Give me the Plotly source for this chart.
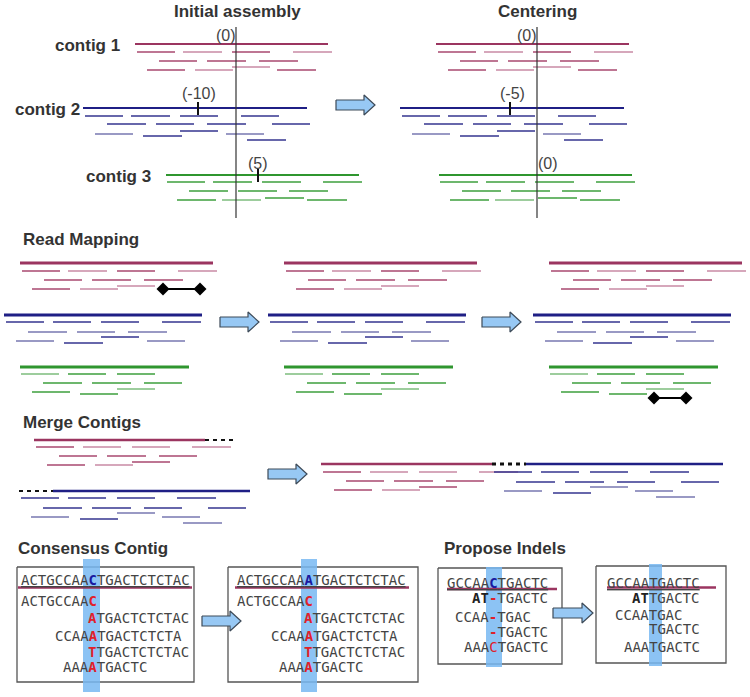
import plotly.graph_objects as go
from collections import OrderedDict

# ======================= DATA =======================
# --- top section: Initial assembly / Centering ---
TOP_TITLES = ["Initial assembly", "Centering"]
TOP_TITLE_X = [237, 537]
TOP_TITLE_Y = 11
CONTIG_NAMES = ["contig 1", "contig 2", "contig 3"]
CONTIG_NAME_X = [87, 47, 118]
TOP_MAIN_Y = [44, 108, 175]
TOP_MAIN_LEN = [193, 224, 193]
TOP_START_INITIAL = [135, 83, 166]
TOP_START_CENTER = [436, 400, 439]
CENTER_LINE_X = [236, 537]
CENTER_LINE_Y = [27, 218]
OFFSET_LABELS_INITIAL = ["(0)", "(-10)", "(5)"]
OFFSET_LABELS_CENTER = ["(0)", "(-5)", "(0)"]
OFFSET_LABEL_X_INITIAL = [226, 199, 258]
OFFSET_LABEL_X_CENTER = [527, 512, 548]
OFFSET_LABEL_Y = [35, 93, 163]
OFFSET_TICK_INITIAL = [None, 198, 258]
OFFSET_TICK_CENTER = [None, 510, None]

# reads: (start, end, dy, shade) relative to contig start / main line
READS_C1 = [(2, 40, 8, 0), (48, 87, 8, 1), (97, 135, 8, 0), (158, 197, 8, 1),
            (24, 62, 17, 0), (72, 111, 17, 0), (124, 163, 17, 0),
            (97, 135, 23, 1),
            (12, 50, 26, 0), (60, 98, 26, 1), (142, 181, 26, 0)]
READS_C2 = [(2, 40, 8, 0), (48, 87, 8, 0), (97, 135, 8, 0), (158, 196, 8, 0),
            (24, 63, 16, 0), (73, 111, 16, 0), (124, 163, 16, 0), (189, 227, 16, 0),
            (97, 135, 23, 0),
            (12, 50, 26, 1), (143, 181, 26, 1),
            (60, 99, 28, 0),
            (164, 203, 32, 0)]
READS_C3 = [(1, 39, 7, 0), (47, 86, 7, 0), (96, 135, 7, 0), (157, 196, 7, 0),
            (23, 62, 16, 0), (72, 111, 16, 0), (123, 162, 16, 0),
            (99, 138, 23, 0),
            (11, 50, 25, 0), (56, 95, 25, 1), (141, 181, 25, 0)]

# --- read mapping ---
RM_TITLE = "Read Mapping"
RM_TITLE_POS = (22, 239)
RM_MAIN_LEN = [193, 198, 169]
RM_START = [20, 4, 20]
RM_MAIN_Y = [263, 315, 367]
RM_PANEL_DX = [0, 264, 529]
RM_READS_C1 = READS_C1[:-1]
RM_READS_C2 = [(2, 40, 7, 0), (49, 87, 7, 0), (97, 135, 7, 0), (158, 197, 7, 0),
               (24, 63, 17, 1), (73, 111, 17, 1), (124, 163, 17, 1),
               (97, 135, 22, 0),
               (12, 50, 26, 1), (143, 181, 26, 1),
               (60, 99, 28, 0)]
RM_READS_C3 = [(1, 39, 7, 1), (48, 86, 7, 0), (97, 135, 7, 0),
               (23, 62, 16, 0), (72, 111, 16, 0), (124, 162, 16, 0),
               (97, 135, 22, 1),
               (12, 50, 25, 0), (60, 98, 27, 0)]
RM_PAIR_PANEL = [0, 2]
RM_PAIR_CONTIG = [0, 2]
RM_PAIR_REL = [(143, 180, 26), (105, 137, 31)]

# --- merge contigs ---
MG_TITLE = "Merge Contigs"
MG_TITLE_POS = (22, 422)
MG_C1_START, MG_C1_Y, MG_C1_SOLID, MG_C1_TOTAL = 34, 440, 171, 203
MG_C2_START, MG_C2_Y, MG_C2_GAP, MG_C2_TOTAL = 19, 491, 34, 231
MG_C1_READS = [(2, 40, 7, 0), (49, 87, 7, 1), (98, 136, 7, 1), (158, 197, 7, 1),
               (25, 63, 16, 0), (73, 112, 16, 0), (125, 163, 16, 0),
               (98, 136, 22, 0),
               (13, 51, 25, 0), (61, 99, 25, 1)]
MG_C2_READS = [(2, 40, 7, 0), (49, 87, 7, 0), (98, 136, 7, 0), (158, 197, 7, 0),
               (24, 63, 17, 0), (73, 112, 17, 0), (125, 163, 17, 0), (189, 227, 17, 0),
               (98, 136, 22, 1),
               (12, 50, 26, 1), (143, 181, 26, 1),
               (61, 99, 28, 0),
               (164, 203, 32, 1)]
MERGED_C1_START, MERGED_C2_START, MERGED_Y = 321, 492, 464

# --- arrows: (x_start, x_tip, y_center) ---
ARROWS = [(336, 375, 105), (220, 259, 322), (482, 521, 322),
          (268, 307, 474), (202, 241, 621), (553, 593, 613)]

# --- sequences ---
SEQ_PITCH = 8.43
CONS_TITLE = "Consensus Contig"
CONS_TITLE_POS = (17, 548)
INDEL_TITLE = "Propose Indels"
INDEL_TITLE_POS = (443, 548)

CONS_SEQ_A = ["ACTGCCAACTGACTCTCTAC", "ACTGCCAAC", "ATGACTCTCTAC",
              "CCAAATGACTCTCTA", "TTGACTCTCTAC", "AAAATGACTC"]
CONS_SEQ_B = ["ACTGCCAAATGACTCTCTAC", "ACTGCCAAC", "ATGACTCTCTAC",
              "CCAAATGACTCTCTA", "TTGACTCTCTAC", "AAAATGACTC"]
CONS_COLS = [0, 0, 8, 4, 8, 5]
CONS_ROW_Y = [580, 601, 618, 636, 652, 667]
INDEL_SEQ_A = ["GCCAACTGACTC", "AT-TGACTC", "CCAA-TGAC", "-TGACTC", "AAACTGACTC"]
INDEL_SEQ_B = ["GCCAATGACTC", "ATTGACTC", "CCAATGAC", "TGACTC", "AAATGACTC"]
INDEL_COLS = [0, 3, 1, 5, 2]
INDEL_ROW_Y_A = [583, 598, 617, 632, 647]
INDEL_ROW_Y_B = [583, 598, 615, 629, 647]

# boxes: (x0, x1, y0, y1), bands, text origin, underline extent
BOX_RECTS = [(17, 194, 567, 682), (228, 418, 567, 682), (438, 562, 568, 664), (596, 726, 566, 663)]
BAND_RECTS = [(83, 100, 559, 692), (301, 317, 559, 692), (486, 502, 567, 667), (649, 662, 564, 666)]
TEXT_X0 = [21, 237, 447, 607]
REF_LINE = [(18, 192, 587.5), (235, 409, 587.5), (447, 557, 589), (607, 716, 587.5)]
# special character styles: (line, col) -> style
SPECIAL = [
    {(0, 8): "blue", (1, 8): "red", (2, 8): "red", (3, 8): "red", (4, 8): "red", (5, 8): "red"},
    {(0, 8): "blue", (1, 8): "red", (2, 8): "red", (3, 8): "red", (4, 8): "red", (5, 8): "red"},
    {(0, 5): "blue", (1, 5): "red", (2, 5): "red", (3, 5): "red", (4, 5): "redn",
     (1, 3): "bold", (1, 4): "bold"},
    {(1, 3): "bold", (1, 4): "bold"},
]

# ======================= STYLE =======================
MAIN_COL = ["#9b3560", "#1f1f85", "#2f962f"]
READ_COL = [["#a8486f", "#c98aa5"], ["#34348f", "#7777b0"], ["#3d9f3d", "#7cbc7c"]]
TITLE_FONT = "Liberation Sans, Arial, sans-serif"
SEQ_FONT = "DejaVu Sans Mono, monospace"
TEXT_COL = "#333333"

# ======================= BUILD =======================
groups = OrderedDict()


def seg(x0, y0, x1, y1, color, width, dash="solid"):
    key = (color, width, dash)
    if key not in groups:
        groups[key] = ([], [])
    xs, ys = groups[key]
    xs += [x0, x1, None]
    ys += [y0, y1, None]


def contig(start, y, length, reads, ci, main_w=2.5, read_w=1.5):
    seg(start, y, start + length, y, MAIN_COL[ci], main_w)
    for (a, b, dy, sh) in reads:
        seg(start + a, y + dy, start + b, y + dy, READ_COL[ci][sh], read_w)


fig = go.Figure()
annotations = []


def label(text, x, y, size=17, bold=True, anchor="center", color=TEXT_COL, family=TITLE_FONT):
    annotations.append(dict(
        x=x, y=y, xref="x", yref="y", showarrow=False,
        text=("<b>%s</b>" % text) if bold else text,
        xanchor=anchor, yanchor="middle", borderpad=0,
        font=dict(family=family, size=size, color=color)))


# ---- boxes & bands (underneath) ----
for (x0, x1, y0, y1) in BOX_RECTS:
    fig.add_trace(go.Scatter(x=[x0, x1, x1, x0, x0], y=[y0, y0, y1, y1, y0], mode="lines",
                             line=dict(color="#555555", width=1.3), hoverinfo="skip"))
for (x0, x1, y0, y1) in BAND_RECTS:
    fig.add_trace(go.Scatter(x=[x0, x1, x1, x0, x0], y=[y0, y0, y1, y1, y0], mode="lines",
                             fill="toself", fillcolor="rgba(120,185,242,0.85)",
                             line=dict(width=0), hoverinfo="skip"))

# ---- top section ----
top_reads = [READS_C1, READS_C2, READS_C3]
for ci in range(3):
    contig(TOP_START_INITIAL[ci], TOP_MAIN_Y[ci], TOP_MAIN_LEN[ci], top_reads[ci], ci, 2.2)
    contig(TOP_START_CENTER[ci], TOP_MAIN_Y[ci], TOP_MAIN_LEN[ci], top_reads[ci], ci, 2.2)
for t, x in zip(TOP_TITLES, TOP_TITLE_X):
    label(t, x, TOP_TITLE_Y)
for n, x, y in zip(CONTIG_NAMES, CONTIG_NAME_X, TOP_MAIN_Y):
    label(n, x, y + 1)

# ---- read mapping ----
rm_reads = [RM_READS_C1, RM_READS_C2, RM_READS_C3]
for p, dx in enumerate(RM_PANEL_DX):
    for ci in range(3):
        contig(RM_START[ci] + dx, RM_MAIN_Y[ci], RM_MAIN_LEN[ci], rm_reads[ci], ci, 2.8)
label(RM_TITLE, RM_TITLE_POS[0], RM_TITLE_POS[1], anchor="left")

# ---- merge contigs ----
seg(MG_C1_START, MG_C1_Y, MG_C1_START + MG_C1_SOLID, MG_C1_Y, MAIN_COL[0], 2.5)
for (a, b, dy, sh) in MG_C1_READS:
    seg(MG_C1_START + a, MG_C1_Y + dy, MG_C1_START + b, MG_C1_Y + dy, READ_COL[0][sh], 1.5)
seg(MG_C2_START + MG_C2_GAP, MG_C2_Y, MG_C2_START + MG_C2_TOTAL, MG_C2_Y, MAIN_COL[1], 2.5)
for (a, b, dy, sh) in MG_C2_READS:
    seg(MG_C2_START + a, MG_C2_Y + dy, MG_C2_START + b, MG_C2_Y + dy, READ_COL[1][sh], 1.5)
# merged
seg(MERGED_C1_START, MERGED_Y, MERGED_C1_START + MG_C1_SOLID, MERGED_Y, MAIN_COL[0], 2.5)
for (a, b, dy, sh) in MG_C1_READS:
    seg(MERGED_C1_START + a, MERGED_Y + dy + 1, MERGED_C1_START + b, MERGED_Y + dy + 1, READ_COL[0][sh], 1.5)
seg(MERGED_C2_START + MG_C2_GAP, MERGED_Y, MERGED_C2_START + MG_C2_TOTAL, MERGED_Y, MAIN_COL[1], 2.5)
for (a, b, dy, sh) in MG_C2_READS:
    seg(MERGED_C2_START + a, MERGED_Y + dy + 1, MERGED_C2_START + b, MERGED_Y + dy + 1, READ_COL[1][sh], 1.5)
label(MG_TITLE, MG_TITLE_POS[0], MG_TITLE_POS[1], anchor="left")

# ---- reference underline in sequence boxes ----
for (x0, x1, y) in REF_LINE:
    seg(x0, y, x1, y, MAIN_COL[0], 2.5)

for key, (xs, ys) in groups.items():
    color, width, dash = key
    fig.add_trace(go.Scatter(x=xs, y=ys, mode="lines",
                             line=dict(color=color, width=width, dash=dash),
                             hoverinfo="skip"))

# dashed black continuations
fig.add_trace(go.Scatter(x=[MG_C1_START + MG_C1_SOLID, MG_C1_START + MG_C1_TOTAL], y=[MG_C1_Y, MG_C1_Y],
                         mode="lines", line=dict(color="#111111", width=2.2, dash="4px,4px"), hoverinfo="skip"))
fig.add_trace(go.Scatter(x=[MG_C2_START, MG_C2_START + MG_C2_GAP], y=[MG_C2_Y, MG_C2_Y],
                         mode="lines", line=dict(color="#111111", width=2.2, dash="4px,4px"), hoverinfo="skip"))
fig.add_trace(go.Scatter(x=[MERGED_C2_START, MERGED_C2_START + MG_C2_GAP], y=[MERGED_Y, MERGED_Y],
                         mode="lines", line=dict(color="#111111", width=3.2, dash="4px,4px"), hoverinfo="skip"))

# centre vertical lines and offset ticks
for x in CENTER_LINE_X:
    fig.add_trace(go.Scatter(x=[x, x], y=CENTER_LINE_Y, mode="lines",
                             line=dict(color="#333333", width=1.2), hoverinfo="skip"))
for ticks in (OFFSET_TICK_INITIAL, OFFSET_TICK_CENTER):
    for ci, tx in enumerate(ticks):
        if tx is None:
            continue
        y = TOP_MAIN_Y[ci]
        fig.add_trace(go.Scatter(x=[tx, tx], y=[y - 6, y + 7], mode="lines",
                                 line=dict(color="#111111", width=2), hoverinfo="skip"))
for labs, xs in ((OFFSET_LABELS_INITIAL, OFFSET_LABEL_X_INITIAL), (OFFSET_LABELS_CENTER, OFFSET_LABEL_X_CENTER)):
    for t, x, y in zip(labs, xs, OFFSET_LABEL_Y):
        label(t, x, y, size=16, bold=False, color="#444444")

# dumbbells (paired reads)
for p, ci, (a, b, dy) in zip(RM_PAIR_PANEL, RM_PAIR_CONTIG, RM_PAIR_REL):
    x0 = RM_START[ci] + RM_PANEL_DX[p]
    y = RM_MAIN_Y[ci] + dy
    fig.add_trace(go.Scatter(x=[x0 + a, x0 + b], y=[y, y], mode="lines+markers",
                             line=dict(color="#000000", width=2),
                             marker=dict(symbol="diamond", size=10, color="#000000"),
                             hoverinfo="skip"))

# arrows
for (x0, x1, yc) in ARROWS:
    hl, bh, hh = 11, 5, 10
    xs = [x0, x1 - hl, x1 - hl, x1, x1 - hl, x1 - hl, x0, x0]
    ys = [yc - bh, yc - bh, yc - hh, yc, yc + hh, yc + bh, yc + bh, yc - bh]
    fig.add_trace(go.Scatter(x=xs, y=ys, mode="lines", fill="toself", fillcolor="#97c8f4",
                             line=dict(color="#3d4a58", width=1.2), hoverinfo="skip"))

# ---- sequence lines: one text per line, styled spans, monospaced columns ----
STYLE_FMT = {
    "normal": "%s",
    "bold": "<b><span style='color:#222222'>%s</span></b>",
    "red": "<b><span style='color:#e0202a'>%s</span></b>",
    "redn": "<span style='color:#e0202a'>%s</span>",
    "blue": "<b><span style='color:#1a1aa0'>%s</span></b>",
}
box_seqs = [CONS_SEQ_A, CONS_SEQ_B, INDEL_SEQ_A, INDEL_SEQ_B]
box_cols = [CONS_COLS, CONS_COLS, INDEL_COLS, INDEL_COLS]
box_rows = [CONS_ROW_Y, CONS_ROW_Y, INDEL_ROW_Y_A, INDEL_ROW_Y_B]
for bi in range(4):
    for li, (s, c0, y) in enumerate(zip(box_seqs[bi], box_cols[bi], box_rows[bi])):
        parts = []
        for k, ch in enumerate(s):
            st = SPECIAL[bi].get((li, c0 + k), "normal")
            parts.append(STYLE_FMT[st] % ch)
        txt = "".join(parts)
        if li == 0:
            txt = "<u>%s</u>" % txt
        annotations.append(dict(
            x=TEXT_X0[bi] + c0 * SEQ_PITCH, y=y, xref="x", yref="y", showarrow=False,
            text=txt, xanchor="left", yanchor="middle", borderpad=0, borderwidth=0,
            font=dict(family=SEQ_FONT, size=14, color="#444444")))

label(CONS_TITLE, CONS_TITLE_POS[0], CONS_TITLE_POS[1], anchor="left")
label(INDEL_TITLE, INDEL_TITLE_POS[0], INDEL_TITLE_POS[1], anchor="left")

fig.update_layout(
    width=750, height=697,
    margin=dict(l=0, r=0, t=0, b=0),
    paper_bgcolor="white", plot_bgcolor="white",
    showlegend=False,
    xaxis=dict(range=[0, 750], visible=False, fixedrange=True),
    yaxis=dict(range=[697, 0], visible=False, fixedrange=True),
    annotations=annotations,
)

fig.write_html("out.html", config={"displayModeBar": False},
               post_script="document.body.style.margin='0';document.body.style.overflow='hidden';")
